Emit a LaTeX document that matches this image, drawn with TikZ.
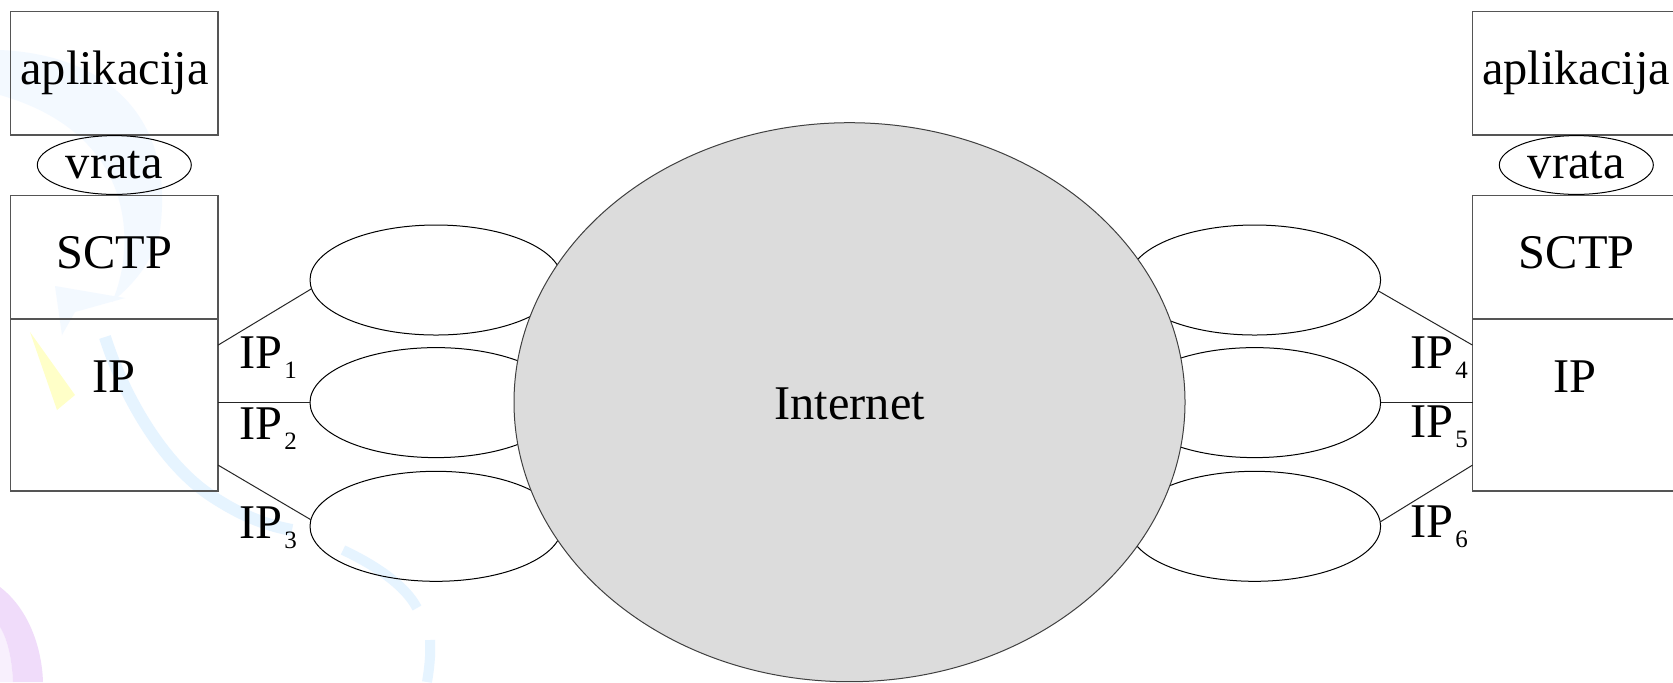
\documentclass[tikz,border=0pt]{standalone}
\usepackage{fontspec}
\setmainfont{Liberation Serif}
\usetikzlibrary{shapes.geometric,calc}

\definecolor{boxline}{HTML}{555555}
\definecolor{netgrey}{HTML}{DCDCDC}
\definecolor{wmblue}{HTML}{E6F4FF}
\definecolor{wmbluepale}{HTML}{F3F9FF}
\definecolor{wmyellow}{HTML}{FFFFC8}
\definecolor{wmpurple}{HTML}{F0DCFA}
\definecolor{wmpurplepale}{HTML}{F8F0FD}

\newcommand\mainsize{\fontsize{24.2pt}{29pt}\selectfont}
\newcommand\ipsub[1]{IP\kern1.2pt\raisebox{-5pt}{\fontsize{12.5pt}{13pt}\selectfont #1}}

\begin{document}
\begin{tikzpicture}[x=0.5pt,y=-0.5pt,
  layerbox/.style={draw=boxline,line width=0.7pt,inner sep=0,outer sep=0,minimum width=103.7pt},
  link/.style={draw,ellipse,line width=0.5pt,inner sep=0,outer sep=0,minimum width=126pt,minimum height=55pt},
  port/.style={draw,ellipse,line width=0.5pt,inner sep=0,outer sep=0,minimum width=77pt,minimum height=29.4pt},
  cloud/.style={draw=black!75,ellipse,fill=netgrey,line width=0.5pt,inner sep=0,outer sep=0,minimum width=335.5pt,minimum height=279.5pt},
  txt/.style={inner sep=0,outer sep=0,anchor=base,font=\mainsize},
  iplbl/.style={inner sep=0,outer sep=0,anchor=base west,font=\mainsize},
  wire/.style={draw=black!85,line width=0.5pt}]

\useasboundingbox (0,0) rectangle (1673,682);
\clip (0,0) rectangle (1673,682);
\fill[white] (0,0) rectangle (1673,682);

% faint background ornament
\fill[wmbluepale] (0,50) .. controls (110,55) and (175,120) .. (160,230)
  .. controls (152,265) and (132,285) .. (112,302)
  .. controls (135,250) and (140,135) .. (0,95) -- cycle;
\fill[wmbluepale] (55,286) -- (125,298) -- (75,312) -- (62,335) -- cycle;
\draw[wmblue,line width=6pt] (105,337) .. controls (125,400) and (165,465) .. (210,495)
  .. controls (240,515) and (265,525) .. (292,530);
\draw[wmblue,line width=5pt] (343,550) .. controls (375,565) and (405,585) .. (417,608);
\draw[wmblue,line width=5pt] (430,640) .. controls (431,655) and (429,670) .. (427,682);
\fill[wmyellow] (30,332) -- (75,395) -- (57,410) -- cycle;
\fill[wmpurplepale] (0,627) .. controls (8,640) and (12,660) .. (13,682) -- (0,682) -- cycle;
\fill[wmpurple] (0,587) .. controls (30,610) and (42,650) .. (43,682) -- (13,682)
  .. controls (12,660) and (8,640) .. (0,627) -- cycle;

% left host stack
\node[layerbox,minimum height=61.55pt] (appL)  at (114.4,73.25) {};
\node[layerbox,minimum height=61.95pt] (sctpL) at (114.4,257.15) {};
\node[layerbox,minimum height=85.95pt] (ipL)   at (114.4,405.05) {};
\node[port] (portL) at (114.3,165) {};
\node[txt] (tAppL)  at (114.4,84.8)  {aplikacija};
\node[txt] (tPortL) at (114.3,178)   {vrata};
\node[txt] (tSctpL) at (114.4,268.7) {SCTP};
\node[txt] (tIpL)   at (114.0,392.6) {IP};

% right host stack
\node[layerbox,minimum height=61.55pt] (appR)  at (1576.2,73.25) {};
\node[layerbox,minimum height=61.95pt] (sctpR) at (1576.2,257.15) {};
\node[layerbox,minimum height=85.95pt] (ipR)   at (1576.2,405.05) {};
\node[port] (portR) at (1576.3,165) {};
\node[txt] (tAppR)  at (1576.2,84.8)  {aplikacija};
\node[txt] (tPortR) at (1576.3,178)   {vrata};
\node[txt] (tSctpR) at (1576.8,268.7) {SCTP};
\node[txt] (tIpR)   at (1575.0,392.6) {IP};

% access links
\node[link] (e1) at (436,280) {};
\node[link] (e2) at (436,402.6) {};
\node[link] (e3) at (436,526.3) {};
\node[link] (e4) at (1254.6,280) {};
\node[link] (e5) at (1254.6,402.6) {};
\node[link] (e6) at (1254.6,526.3) {};

% the Internet
\node[cloud] (net) at (849.5,402.2) {};
\node[txt] (tNet) at (849.8,419) {Internet};

% interface attachments
\coordinate (a1) at ($(ipL.north east)+(0,26)$);
\coordinate (a3) at ($(ipL.north east)+(0,146)$);
\coordinate (a4) at ($(ipR.north west)+(0,26)$);
\coordinate (a6) at ($(ipR.north west)+(0,146)$);
\draw[wire] (a1) -- (e1.184);
\draw[wire] (e2.west) -- (e2.west -| ipL.east);
\draw[wire] (a3) -- (e3.177.6);
\draw[wire] (a4) -- (e4.355.9);
\draw[wire] (e5.east) -- (e5.east -| ipR.west);
\draw[wire] (a6) -- (e6.2.4);

% interface labels
\node[iplbl] (ip1) at (239,368)    {\ipsub{1}};
\node[iplbl] (ip2) at (239,439)    {\ipsub{2}};
\node[iplbl] (ip3) at (239,538)    {\ipsub{3}};
\node[iplbl] (ip4) at (1410,368.5) {\ipsub{4}};
\node[iplbl] (ip5) at (1410,437)   {\ipsub{5}};
\node[iplbl] (ip6) at (1410,537)   {\ipsub{6}};
\end{tikzpicture}
\end{document}
